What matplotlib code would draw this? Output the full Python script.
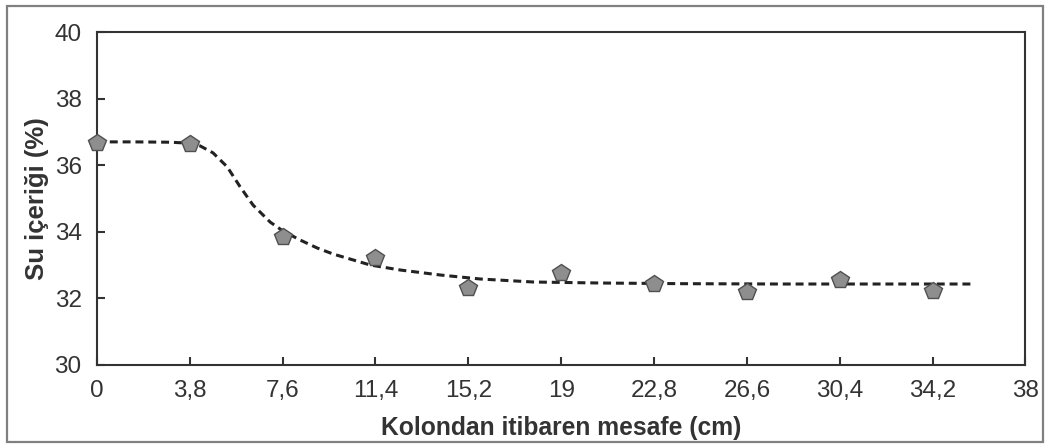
import matplotlib.pyplot as plt
from matplotlib.patches import Rectangle

# ---------- data ----------
mesafe = [0, 3.8, 7.6, 11.4, 15.2, 19, 22.8, 26.6, 30.4, 34.2]
su_icerigi = [36.67, 36.65, 33.84, 33.21, 32.31, 32.76, 32.44, 32.20, 32.55, 32.22]

# trend line
egri_x = [0, 1.5, 3.0, 3.8, 4.22, 4.75, 5.33, 5.86, 6.39, 7.09, 7.62, 8.32, 9.02,
          9.67, 11.19, 12.42, 14.06, 15.70, 17.87, 20.61, 24, 28, 32, 35.9]
egri_y = [36.70, 36.70, 36.69, 36.66, 36.58, 36.37, 35.95, 35.35, 34.80, 34.29, 34.02,
          33.75, 33.51, 33.33, 33.00, 32.85, 32.70, 32.58, 32.49, 32.46, 32.44, 32.43,
          32.43, 32.43]

x_ticks = [0, 3.8, 7.6, 11.4, 15.2, 19, 22.8, 26.6, 30.4, 34.2, 38]
x_labels = ['0', '3,8', '7,6', '11,4', '15,2', '19', '22,8', '26,6', '30,4', '34,2', '38']
y_ticks = [30, 32, 34, 36, 38, 40]

plt.rcParams['font.family'] = ['Liberation Sans', 'DejaVu Sans']

fig = plt.figure(figsize=(10.46, 4.45), dpi=100)
ax = fig.add_axes([0.0927, 0.18, 0.8876, 0.748])

# outer frame
fig.patches.append(Rectangle((0.007, 0.006), 0.99, 0.98, transform=fig.transFigure,
                             fill=False, edgecolor='#808080', linewidth=1.6))

ax.plot(egri_x, egri_y, color='#222222', linewidth=2.2, dashes=(2.6, 1.6), zorder=2)
ax.plot(mesafe, su_icerigi, linestyle='none', marker='p', markersize=13,
        markerfacecolor='#8e8e8e', markeredgecolor='#505050', markeredgewidth=1.0,
        zorder=3, clip_on=False)

ax.set_xlim(0, 38)
ax.set_ylim(30, 40)
ax.set_xticks(x_ticks)
ax.set_xticklabels(x_labels)
ax.set_yticks(y_ticks)

for s in ax.spines.values():
    s.set_color('#333333')
    s.set_linewidth(1.5)

ax.tick_params(direction='in', length=6, width=1.5, color='#333333',
               labelsize=17.5, labelcolor='#333333')
ax.tick_params(axis='x', pad=11)
ax.tick_params(axis='y', pad=11)

ax.set_xlabel('Kolondan itibaren mesafe (cm)', fontsize=17.7, fontweight='bold',
              color='#333333', labelpad=10)
ax.set_ylabel('Su içeriği (%)', fontsize=18.5, fontweight='bold',
              color='#333333', labelpad=4)

fig.savefig('out.png', dpi=100)
